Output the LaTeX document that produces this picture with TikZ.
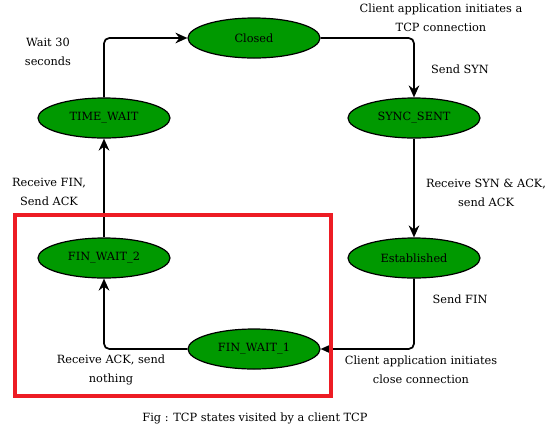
\documentclass[tikz,border=0pt]{standalone}
\usepackage{fontspec}
\setmainfont{DejaVu Serif}
\usetikzlibrary{shapes.geometric, arrows.meta}
\definecolor{stategreen}{HTML}{009900}
\definecolor{boxred}{HTML}{ED1C24}

\begin{document}
\begin{tikzpicture}[x=0.75pt, y=-0.75pt,
        every node/.style={font=\fontsize{8.5}{13.9}\selectfont},
        state/.style={ellipse, draw=black, line width=0.9pt, fill=stategreen, minimum width=99pt, minimum height=30pt, inner sep=0pt},
        flow/.style={-{Stealth[length=9pt, width=8pt, inset=3pt]}, line width=1.3pt, rounded corners=4pt},
        note/.style={align=center, inner sep=0pt}]

                \useasboundingbox (0,0) rectangle (559,429);

                % states
                \node[state] (closed) at (254,38) {Closed};
                \node[state] (timewait) at (104,118) {TIME\_WAIT};
                \node[state] (synsent) at (414,118) {SYNC\_SENT};
                \node[state] (finwait2) at (104,258) {FIN\_WAIT\_2};
                \node[state] (established) at (414,258) {Established};
                \node[state] (finwait1) at (254,349) {FIN\_WAIT\_1};

                % transitions
                \draw[flow] (timewait.north) |- (closed.west);
                \draw[flow] (closed.east) -| (synsent.north);
                \draw[flow] (synsent.south) -- (established.north);
                \draw[flow] (established.south) |- (finwait1.east);
                \draw[flow] (finwait1.west) -| (finwait2.south);
                \draw[flow] (finwait2.north) -- (timewait.south);

                \draw[boxred, line width=3.4pt] (15,215) rectangle (331,396);

                % labels
                \node[note] (waitlbl) at (48,52) {Wait 30\\seconds};
                \node[note] (connlbl) at (441,18) {Client application initiates a\\TCP connection};
                \node[note] (synlbl) at (460,69) {Send SYN};
                \node[note] (synacklbl) at (486,193) {Receive SYN \& ACK,\\send ACK};
                \node[note] (finlbl) at (49,192) {Receive FIN,\\Send ACK};
                \node[note] (sendfinlbl) at (460,299) {Send FIN};
                \node[note] (acklbl) at (111,370) {Receive ACK, send\\nothing};
                \node[note] (closelbl) at (421,370) {Client application initiates\\close connection};
                \node[note] (caption) at (255,418) {Fig : TCP states visited by a client TCP};

\end{tikzpicture}
\end{document}
